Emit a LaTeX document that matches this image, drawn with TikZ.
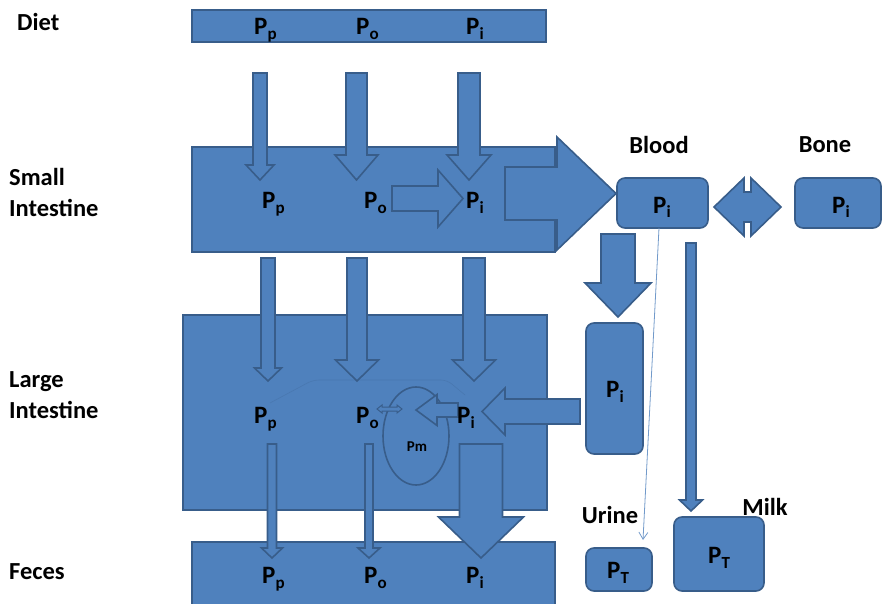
\documentclass[tikz,border=0pt]{standalone}
\usepackage{fontspec}
\setmainfont{Carlito}
\usetikzlibrary{arrows.meta,shapes.geometric}
\definecolor{fillb}{HTML}{4F81BD}
\definecolor{lineb}{HTML}{385D8A}
\newcommand\Psub[1]{P\raisebox{-5pt}{\fontsize{17}{17}\selectfont #1}}
\newcommand\darr[6]{\draw[barrow] (#1-#3,#2) -- (#1+#3,#2) -- (#1+#3,#4) -- (#1+#5,#4) -- (#1,#6) -- (#1-#5,#4) -- (#1-#3,#4) -- cycle;}
\newcommand\rarr[6]{\draw[barrow] (#2,#1-#3) -- (#4,#1-#3) -- (#4,#1-#5) -- (#6,#1) -- (#4,#1+#5) -- (#4,#1+#3) -- (#2,#1+#3) -- cycle;}
\newcommand\larr[6]{\draw[barrow] (#2,#1-#3) -- (#4,#1-#3) -- (#4,#1-#5) -- (#6,#1) -- (#4,#1+#5) -- (#4,#1+#3) -- (#2,#1+#3) -- cycle;}
\begin{document}
\begin{tikzpicture}[x=1pt,y=-1pt,
  box/.style={draw=lineb, fill=fillb, line width=1.6pt, inner sep=0, outer sep=0},
  rbox/.style={box, rounded corners=8pt},
  barrow/.style={draw=lineb, fill=fillb, line width=1.6pt, line join=miter},
  lbl/.style={font=\fontsize{25}{25}\selectfont\bfseries, inner sep=0, anchor=base west},
  side/.style={font=\fontsize{24.5}{31}\selectfont\bfseries, inner sep=0, anchor=west, align=left}]
\useasboundingbox (0,0) rectangle (883,604);
% boxes
\node[box, minimum width=354pt, minimum height=32pt] (diet) at (369,26) {};
\node[box, minimum width=363pt, minimum height=105pt] (si) at (373.5,199.5) {};
\node[box, minimum width=364pt, minimum height=195pt] (li) at (365,412.5) {};
\node[box, minimum width=363pt, minimum height=70pt] (fec) at (373.5,577) {};
\node[rbox, minimum width=91pt, minimum height=50pt] (blood) at (662.5,203) {};
\node[rbox, minimum width=86pt, minimum height=50pt] (bone) at (838,203) {};
\node[rbox, minimum width=57pt, minimum height=131pt] (pir) at (614.5,388.5) {};
\node[rbox, minimum width=66pt, minimum height=43pt] (urine) at (619,569.5) {};
\node[rbox, minimum width=90pt, minimum height=74pt] (milk) at (719,554) {};
% Diet -> SI
\darr{260}{73}{7}{165}{14}{180}
\darr{356.5}{73}{10.5}{155}{21.5}{180}
\darr{469}{73}{11}{155}{22}{180}
% SI internal
\rarr{198.5}{392}{12.5}{438}{28.5}{463}
% SI -> blood
\rarr{193.5}{505}{26.5}{557}{56.5}{616}
% SI -> LI
\darr{268}{258}{7}{368}{13.5}{381}
\darr{357}{258}{10}{360}{21.5}{381}
\darr{474}{258}{11}{360}{21.5}{381}
% LI internals
\draw[lineb, opacity=0.25, line width=0.6pt, rounded corners=6pt] (270,403) -- (313,380) -- (447,380) -- (465,395);
\node[draw=lineb, fill=fillb, line width=1.6pt, ellipse, minimum width=66pt, minimum height=98pt, inner sep=0] (pm) at (416,436) {};
\node[inner sep=0, font=\fontsize{15}{15}\selectfont\bfseries] at (417,447) {Pm};
\larr{410}{458}{7}{437}{15.5}{416}
\draw[barrow, line width=1pt] (377,409) -- (382,405) -- (382,407) -- (397,407) -- (397,405) -- (402,409) -- (397,413) -- (397,411) -- (382,411) -- (382,413) -- cycle;
% Pi right -> LI
\larr{411.5}{580}{12.5}{505}{23.5}{482}
% LI -> feces
\darr{272}{444}{4.5}{548}{10.5}{558}
\darr{369}{444}{4}{548}{11}{558}
\darr{481}{444}{21.5}{517}{42.5}{558}
% blood <-> bone
\draw[barrow] (714,207) -- (744,178) -- (744,192) -- (751,192) -- (751,178) -- (781,207) -- (751,236) -- (751,222) -- (744,222) -- (744,236) -- cycle;
% blood -> Pi right
\darr{618}{234}{17}{283}{33}{317}
% blood -> milk
\darr{691}{243}{5}{500}{11.5}{511}
% blood -> urine thin
\coordinate (uend) at (643,540);
\draw[fillb!80!white, line width=0.8pt, -{Straight Barb[length=7pt,width=9pt]}] (blood.south -| 659,0) -- (uend);
% labels in boxes
\node[lbl] at (254,35) {\Psub{p}};
\node[lbl] at (356,35) {\Psub{o}};
\node[lbl] at (466,35) {\Psub{i}};
\node[lbl] at (262,208) {\Psub{p}};
\node[lbl] at (364,208) {\Psub{o}};
\node[lbl] at (466,208) {\Psub{i}};
\node[lbl] at (254,423) {\Psub{p}};
\node[lbl] at (356,423) {\Psub{o}};
\node[lbl] at (457,423) {\Psub{i}};
\node[lbl] at (262,583) {\Psub{p}};
\node[lbl] at (364,583) {\Psub{o}};
\node[lbl] at (466,583) {\Psub{i}};
\node[lbl] at (653,213) {\Psub{i}};
\node[lbl] at (832,213) {\Psub{i}};
\node[lbl] at (606,397) {\Psub{i}};
\node[lbl] at (607,578) {\Psub{T}};
\node[lbl] at (708,563) {\Psub{T}};
% side labels
\node[side] (tdiet) at (17,22) {Diet};
\node[side] (tsi) at (9,192.5) {Small\\Intestine};
\node[side] (tli) at (9,395) {Large\\Intestine};
\node[side] (tfec) at (9,572) {Feces};
\node[side, anchor=center] (tblood) at (659,145) {Blood};
\node[side, anchor=center] (tbone) at (825,145) {Bone};
\node[side, anchor=center] (turine) at (610,515) {Urine};
\node[side, anchor=center] (tmilk) at (765,507) {Milk};
\end{tikzpicture}
\end{document}
